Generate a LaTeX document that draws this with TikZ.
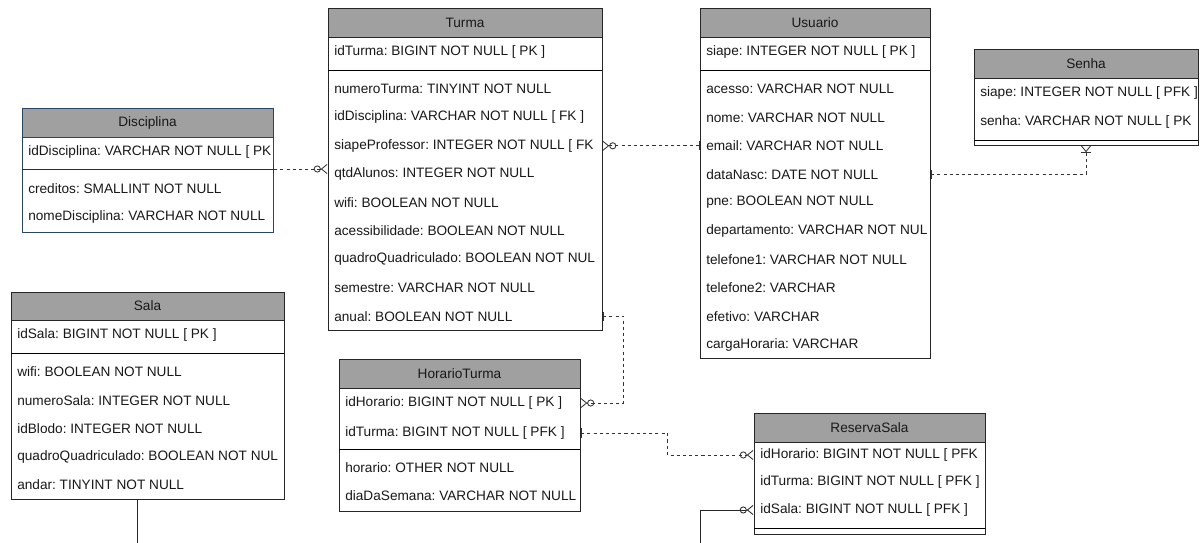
\documentclass[tikz,border=0pt]{standalone}
\usepackage{fontspec}
\setmainfont{Liberation Sans}
\usetikzlibrary{arrows.meta,fit,calc}
\definecolor{hdrgray}{RGB}{160,160,160}
\definecolor{txtgray}{RGB}{25,25,25}
\definecolor{discblue}{RGB}{40,70,100}

\begin{document}
\frenchspacing
\begin{tikzpicture}[x=0.025cm,y=-0.025cm,
    font=\fontsize{9.7}{11}\selectfont,
    tbl/.style={draw=black!85,fill=white,inner sep=0pt,line width=0.7pt},
    hdr/.style={draw=black!85,fill=hdrgray,inner sep=0pt,line width=0.7pt,
      label={[text=txtgray,inner sep=0pt]center:#1}},
    row/.style={anchor=west,inner sep=0pt,text=txtgray},
    rel/.style={dash pattern=on 2.2pt off 2.2pt,draw=black!80,line width=0.6pt},
    zmany/.style={{Bar[width=6.5pt,line width=0.6pt]}-{Circle[open,length=5pt,line width=0.6pt]Straight Barb[reversed,length=4pt,width=6.5pt,line width=0.6pt]}},
    omany/.style={{Bar[width=6.5pt,line width=0.6pt]}-{Bar[width=6.5pt,line width=0.6pt]Straight Barb[reversed,length=4pt,width=6.5pt,line width=0.6pt]}}]
\useasboundingbox (0,0) rectangle (1200,543);

% Disciplina
\node[tbl,draw=discblue,fit={(22,108)(273,232)}] (disc) {};
\node[hdr=Disciplina,draw=discblue,fit={(22,108)(273,137)}] (disc-h) {};
\draw[discblue!70!black,line width=0.7pt] (22,169) -- (273,169);
\node[row] (disc-k) at (28,152) {idDisciplina: VARCHAR NOT NULL [ PK};
\node[row] (disc-1) at (28,189) {creditos: SMALLINT NOT NULL};
\node[row] (disc-2) at (28,217) {nomeDisciplina: VARCHAR NOT NULL};
\coordinate (disc-line) at (22,169);

% Turma
\node[tbl,fit={(328,8)(602,330)}] (turma) {};
\node[hdr=Turma,fit={(328,8)(602,37)}] (turma-h) {};
\draw[line width=0.7pt] (328,70) -- (602,70);
\node[row] (turma-k) at (334,52) {idTurma: BIGINT NOT NULL [ PK ]};
\foreach \t [count=\i] in {numeroTurma: TINYINT NOT NULL,
    idDisciplina: VARCHAR NOT NULL [ FK ],
    siapeProfessor: INTEGER NOT NULL [ FK,
    qtdAlunos: INTEGER NOT NULL,
    wifi: BOOLEAN NOT NULL,
    acessibilidade: BOOLEAN NOT NULL,
    quadroQuadriculado: BOOLEAN NOT NUL,
    semestre: VARCHAR NOT NULL,
    anual: BOOLEAN NOT NULL}
  \node[row] (turma-\i) at (334,{89+(\i-1)*28.4}) {\t};

% Usuario
\node[tbl,fit={(700,8)(930,358)}] (usu) {};
\node[hdr=Usuario,fit={(700,8)(930,37)}] (usu-h) {};
\draw[line width=0.7pt] (700,70) -- (930,70);
\node[row] (usu-k) at (706,52) {siape: INTEGER NOT NULL [ PK ]};
\foreach \t [count=\i] in {acesso: VARCHAR NOT NULL,
    nome: VARCHAR NOT NULL,
    email: VARCHAR NOT NULL,
    dataNasc: DATE NOT NULL,
    pne: BOOLEAN NOT NULL,
    departamento: VARCHAR NOT NUL,
    telefone1: VARCHAR NOT NULL,
    telefone2: VARCHAR,
    efetivo: VARCHAR,
    cargaHoraria: VARCHAR}
  \node[row] (usu-\i) at (706,{89+(\i-1)*28.4}) {\t};

% Senha
\node[tbl,fit={(974,49)(1198,145)}] (senha) {};
\node[hdr=Senha,fit={(974,49)(1198,78)}] (senha-h) {};
\draw[line width=0.7pt] (974,140) -- (1198,140);
\node[row] (senha-1) at (980,93) {siape: INTEGER NOT NULL [ PFK ]};
\node[row] (senha-2) at (980,122) {senha: VARCHAR NOT NULL [ PK};

% Sala
\node[tbl,fit={(11,292)(284,499)}] (sala) {};
\node[hdr=Sala,fit={(11,292)(284,320)}] (sala-h) {};
\draw[line width=0.7pt] (11,353) -- (284,353);
\node[row] (sala-k) at (17,335) {idSala: BIGINT NOT NULL [ PK ]};
\foreach \t [count=\i] in {wifi: BOOLEAN NOT NULL,
    numeroSala: INTEGER NOT NULL,
    idBlodo: INTEGER NOT NULL,
    quadroQuadriculado: BOOLEAN NOT NUL,
    andar: TINYINT NOT NULL}
  \node[row] (sala-\i) at (17,{372+(\i-1)*28.2}) {\t};

% HorarioTurma
\node[tbl,fit={(339,359)(580,511)}] (hor) {};
\node[hdr=HorarioTurma,fit={(339,359)(580,388)}] (hor-h) {};
\draw[line width=0.7pt] (339,449) -- (580,449);
\node[row] (hor-k1) at (345,403) {idHorario: BIGINT NOT NULL [ PK ]};
\node[row] (hor-k2) at (345,433) {idTurma: BIGINT NOT NULL [ PFK ]};
\node[row] (hor-1) at (345,468) {horario: OTHER NOT NULL};
\node[row] (hor-2) at (345,496) {diaDaSemana: VARCHAR NOT NULL};

% ReservaSala
\node[tbl,fit={(754,413)(985,534)}] (res) {};
\node[hdr=ReservaSala,fit={(754,413)(985,442)}] (res-h) {};
\draw[line width=0.7pt] (754,528) -- (985,528);
\node[row] (res-1) at (760,455) {idHorario: BIGINT NOT NULL [ PFK};
\node[row] (res-2) at (760,482) {idTurma: BIGINT NOT NULL [ PFK ]};
\node[row] (res-3) at (760,510) {idSala: BIGINT NOT NULL [ PFK ]};

% relations
\draw[rel,zmany] (disc-line -| disc.east) -- (disc-line -| turma.west);
\draw[rel,zmany] (usu-3 -| usu.west) -- (turma-3 -| turma.east);
\draw[rel,omany] (usu-4 -| usu.east) -| (senha.south);
\draw[rel,zmany] (turma-9 -| turma.east) -- ++(21,0) |- (hor-k1 -| hor.east);
\draw[rel,zmany] (hor-k2 -| hor.east) -- ++(87,0) |- (res-1 -| res.west);
\draw[zmany,draw=black!85,line width=0.7pt] ($(sala.south)+(-10,0)$) |- (700,560) |- (res-3 -| res.west);
\end{tikzpicture}
\end{document}
